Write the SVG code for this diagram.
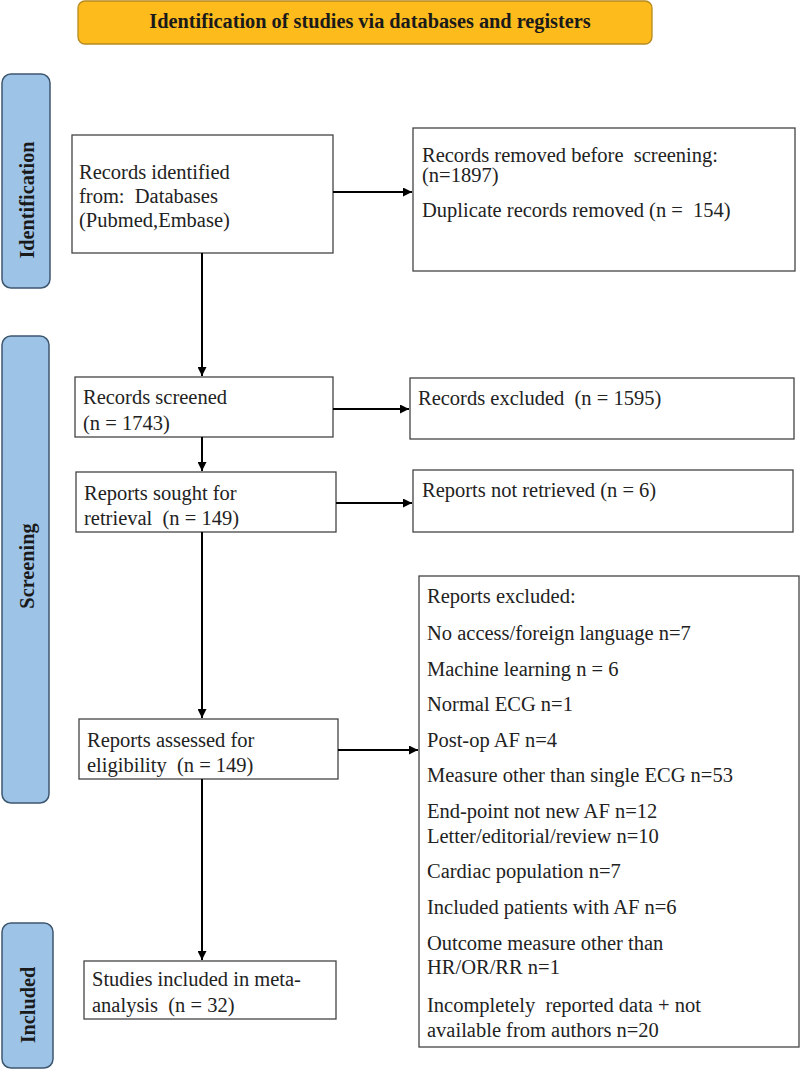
<svg xmlns="http://www.w3.org/2000/svg" width="800" height="1070" viewBox="0 0 800 1070">
<defs>
<marker id="ah" viewBox="0 0 10 10" refX="10" refY="5" markerWidth="4.5" markerHeight="4.5" orient="auto" markerUnits="strokeWidth">
<path d="M0,0 L10,5 L0,10 z" fill="#000"/>
</marker>
<style>
.box{fill:#fff;stroke:#444;stroke-width:1.3}
.bar{fill:#9DC3E6;stroke:#3E5770;stroke-width:1.5}
.t{font-family:"Liberation Serif","Times New Roman",serif;font-size:20.5px;fill:#222}
.b{font-family:"Liberation Serif","Times New Roman",serif;font-size:20.3px;font-weight:bold;fill:#1a1a1a}
.c{stroke:#000;stroke-width:2;fill:none}
</style>
</defs>
<rect width="800" height="1070" fill="#fff"/>

<g id="title">
<rect x="78" y="1" width="574" height="43" rx="7" fill="#FDBB1C" stroke="#B78A1F" stroke-width="1.3"/>
<text class="b" x="370" y="28" text-anchor="middle">Identification of studies via databases and registers</text>
</g>

<g id="bar-identification">
<rect class="bar" x="2" y="74" width="48" height="214" rx="9"/>
<text class="b" transform="translate(34,200) rotate(-90)" text-anchor="middle">Identification</text>
</g>
<g id="bar-screening">
<rect class="bar" x="2" y="336" width="47" height="467" rx="9"/>
<text class="b" transform="translate(34,566) rotate(-90)" text-anchor="middle">Screening</text>
</g>
<g id="bar-included">
<rect class="bar" x="2" y="923" width="51" height="145" rx="9"/>
<text class="b" transform="translate(35,1005) rotate(-90)" text-anchor="middle">Included</text>
</g>

<g id="records-identified">
<rect class="box" x="72" y="135" width="261" height="118"/>
<text class="t" x="79" y="179">Records identified</text>
<text class="t" x="79" y="203" xml:space="preserve">from:  Databases</text>
<text class="t" x="79" y="227">(Pubmed,Embase)</text>
</g>

<g id="records-removed">
<rect class="box" x="413" y="128" width="382" height="143"/>
<text class="t" x="422" y="162" xml:space="preserve">Records removed before  screening:</text>
<text class="t" x="422" y="182">(n=1897)</text>
<text class="t" x="422" y="217" xml:space="preserve">Duplicate records removed (n =  154)</text>
</g>

<g id="records-screened">
<rect class="box" x="75" y="377" width="258" height="60"/>
<text class="t" x="83" y="404">Records screened</text>
<text class="t" x="83" y="430">(n = 1743)</text>
</g>

<g id="records-excluded">
<rect class="box" x="410" y="378" width="384" height="61"/>
<text class="t" x="418" y="405" xml:space="preserve">Records excluded  (n = 1595)</text>
</g>

<g id="reports-sought">
<rect class="box" x="76" y="472" width="260" height="60"/>
<text class="t" x="84" y="500">Reports sought for</text>
<text class="t" x="84" y="525" xml:space="preserve">retrieval  (n = 149)</text>
</g>

<g id="reports-not-retrieved">
<rect class="box" x="413" y="470" width="380" height="62"/>
<text class="t" x="422" y="497">Reports not retrieved (n = 6)</text>
</g>

<g id="reports-assessed">
<rect class="box" x="79" y="719" width="259" height="60"/>
<text class="t" x="87" y="747">Reports assessed for</text>
<text class="t" x="87" y="772" xml:space="preserve">eligibility  (n = 149)</text>
</g>

<g id="reports-excluded">
<rect class="box" x="419" y="576" width="380" height="471"/>
<text class="t" x="427" y="603">Reports excluded:</text>
<text class="t" x="427" y="640">No access/foreign language n=7</text>
<text class="t" x="427" y="676">Machine learning n = 6</text>
<text class="t" x="427" y="711">Normal ECG n=1</text>
<text class="t" x="427" y="747">Post-op AF n=4</text>
<text class="t" x="427" y="782">Measure other than single ECG n=53</text>
<text class="t" x="427" y="818">End-point not new AF n=12</text>
<text class="t" x="427" y="843">Letter/editorial/review n=10</text>
<text class="t" x="427" y="878">Cardiac population n=7</text>
<text class="t" x="427" y="914">Included patients with AF n=6</text>
<text class="t" x="427" y="950">Outcome measure other than</text>
<text class="t" x="427" y="974">HR/OR/RR n=1</text>
<text class="t" x="427" y="1012" xml:space="preserve">Incompletely  reported data + not</text>
<text class="t" x="427" y="1037">available from authors n=20</text>
</g>

<g id="studies-included">
<rect class="box" x="84" y="961" width="252" height="58"/>
<text class="t" x="92" y="986">Studies included in meta-</text>
<text class="t" x="92" y="1012" xml:space="preserve">analysis  (n = 32)</text>
</g>

<g id="connectors">
<line class="c" x1="333" y1="192" x2="412" y2="192" marker-end="url(#ah)"/>
<line class="c" x1="202" y1="253" x2="202" y2="376" marker-end="url(#ah)"/>
<line class="c" x1="333" y1="409" x2="409" y2="409" marker-end="url(#ah)"/>
<line class="c" x1="202" y1="437" x2="202" y2="471" marker-end="url(#ah)"/>
<line class="c" x1="336" y1="503" x2="412" y2="503" marker-end="url(#ah)"/>
<line class="c" x1="202" y1="532" x2="202" y2="718" marker-end="url(#ah)"/>
<line class="c" x1="338" y1="750" x2="418" y2="750" marker-end="url(#ah)"/>
<line class="c" x1="202" y1="779" x2="202" y2="960" marker-end="url(#ah)"/>
</g>
</svg>
